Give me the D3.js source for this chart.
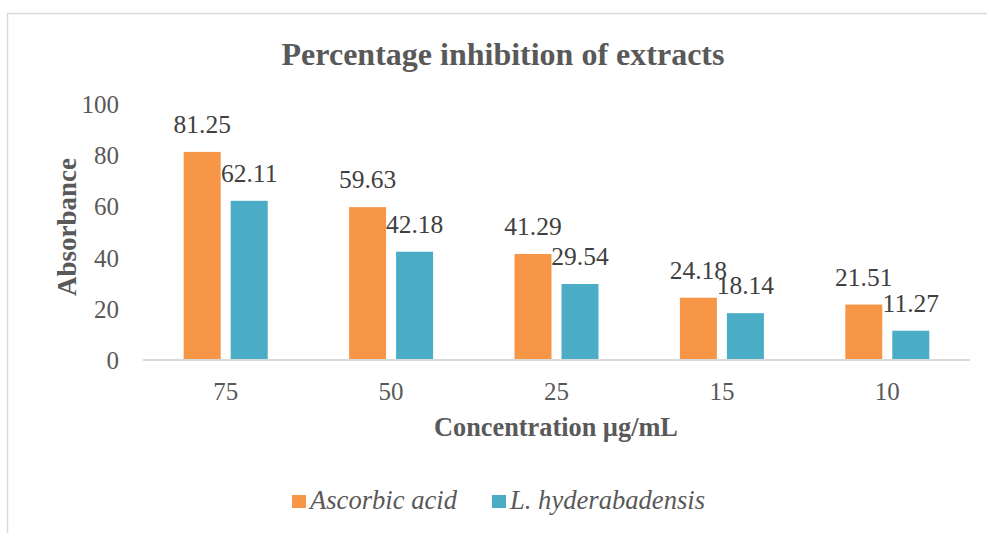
<!DOCTYPE html>
<html>
<head>
<meta charset="utf-8">
<script src="https://cdn.jsdelivr.net/npm/d3@7"></script>
<style>
  body { margin: 0; background: #fff; }
</style>
</head>
<body>
<div id="chart"></div>
<script>
const categories = ['75', '50', '25', '15', '10'];
const seriesNames = ['Ascorbic acid', 'L. hyderabadensis'];
const ascorbic = [81.25, 59.63, 41.29, 24.18, 21.51];
const hyderabadensis = [62.11, 42.18, 29.54, 18.14, 11.27];
const yTicks = [0, 20, 40, 60, 80, 100];
const colors = ['#F79646', '#4BACC6'];

const FONT = '"Liberation Serif", "Times New Roman", serif';
const W = 987, H = 533;
const margin = { top: 104, right: 17, bottom: 173.5, left: 143 };
const width = W - margin.left - margin.right;
const height = H - margin.top - margin.bottom;

const svg = d3.select('#chart').append('svg')
  .attr('width', W)
  .attr('height', H);

// chart frame, runs off the right and bottom edge like in the source
svg.append('rect')
  .attr('x', 7.5).attr('y', 13.5)
  .attr('width', 1000).attr('height', 600)
  .attr('fill', 'none')
  .attr('stroke', '#d9d9d9')
  .attr('stroke-width', 1.5);

const g = svg.append('g')
  .attr('transform', `translate(${margin.left},${margin.top})`);

const x = d3.scaleBand().domain(categories).range([0, width]).padding(0);
const y = d3.scaleLinear().domain([0, 100]).range([height, 0]);

const barW = 37, barGap = 10;
const data = categories.map((c, i) => ({ cat: c, vals: [ascorbic[i], hyderabadensis[i]] }));

// y tick labels
g.selectAll('.ytick')
  .data(yTicks)
  .enter()
  .append('text')
  .attr('x', -24)
  .attr('y', d => y(d))
  .attr('dy', '0.37em')
  .attr('text-anchor', 'end')
  .attr('fill', '#595959')
  .style('font-family', FONT)
  .style('font-size', '25px')
  .text(d => d);

// bars
const groups = g.selectAll('.grp')
  .data(data)
  .enter()
  .append('g')
  .attr('transform', d => `translate(${x(d.cat) + x.bandwidth() / 2},0)`);

groups.selectAll('rect')
  .data(d => d.vals)
  .enter()
  .append('rect')
  .attr('x', (d, i) => i === 0 ? -barW - barGap / 2 : barGap / 2)
  .attr('y', d => y(d))
  .attr('width', barW)
  .attr('height', d => height - y(d))
  .attr('fill', (d, i) => colors[i]);

// data labels
groups.selectAll('.lbl')
  .data(d => d.vals)
  .enter()
  .append('text')
  .attr('x', (d, i) => i === 0 ? -barW / 2 - barGap / 2 : barW / 2 + barGap / 2)
  .attr('y', d => y(d) - 19)
  .attr('text-anchor', 'middle')
  .attr('fill', '#404040')
  .style('font-family', FONT)
  .style('font-size', '25.5px')
  .text(d => d.toFixed(2));

// baseline
g.append('line')
  .attr('x1', 0).attr('x2', width)
  .attr('y1', height + 0.5).attr('y2', height + 0.5)
  .attr('stroke', '#d9d9d9')
  .attr('stroke-width', 2);

// x tick labels
g.selectAll('.xtick')
  .data(categories)
  .enter()
  .append('text')
  .attr('x', d => x(d) + x.bandwidth() / 2)
  .attr('y', height + 40.5)
  .attr('text-anchor', 'middle')
  .attr('fill', '#595959')
  .style('font-family', FONT)
  .style('font-size', '25px')
  .text(d => d);

// title
svg.append('text')
  .attr('x', 503).attr('y', 65)
  .attr('text-anchor', 'middle')
  .attr('fill', '#595959')
  .style('font-family', FONT)
  .style('font-size', '32px')
  .style('font-weight', 'bold')
  .text('Percentage inhibition of extracts');

// axis titles
svg.append('text')
  .attr('x', 556).attr('y', 436)
  .attr('text-anchor', 'middle')
  .attr('fill', '#595959')
  .style('font-family', FONT)
  .style('font-size', '26.3px')
  .style('font-weight', 'bold')
  .text('Concentration µg/mL');

svg.append('text')
  .attr('transform', 'translate(76,227) rotate(-90)')
  .attr('text-anchor', 'middle')
  .attr('fill', '#595959')
  .style('font-family', FONT)
  .style('font-size', '27px')
  .style('font-weight', 'bold')
  .text('Absorbance');

// legend
const legendX = [292, 492];
const legend = svg.selectAll('.leg')
  .data(seriesNames)
  .enter()
  .append('g')
  .attr('transform', (d, i) => `translate(${legendX[i]},495)`);

legend.append('rect')
  .attr('width', 14).attr('height', 13)
  .attr('fill', (d, i) => colors[i]);

legend.append('text')
  .attr('x', 18).attr('y', 14.3)
  .attr('fill', '#595959')
  .style('font-family', FONT)
  .style('font-size', '26.6px')
  .style('font-style', 'italic')
  .text(d => d);
</script>
</body>
</html>
